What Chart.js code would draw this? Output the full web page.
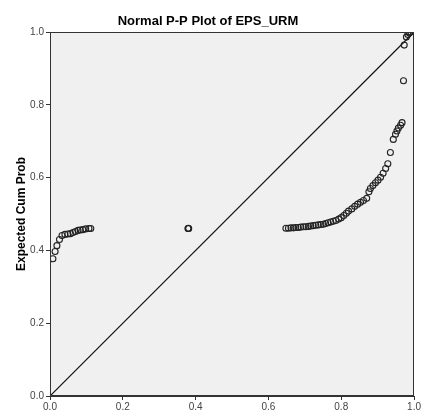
<!DOCTYPE html>
<html>
<head>
<meta charset="utf-8">
<script src="https://cdn.jsdelivr.net/npm/chart.js@4.4.1/dist/chart.umd.min.js"></script>
<style>
  html, body { margin: 0; padding: 0; background: #fff; }
  #wrap { width: 422px; height: 414px; }
</style>
</head>
<body>
<div id="wrap"><canvas id="ppPlot" width="422" height="414"></canvas></div>
<script>
var observedCum = [
  0.008, 0.014, 0.019, 0.026, 0.033, 0.041, 0.049, 0.056, 0.063, 0.070, 0.077, 0.083, 0.090, 0.098, 0.107, 0.112,
  0.379, 0.380, 0.381,
  0.648, 0.655, 0.662, 0.669, 0.675, 0.682, 0.689, 0.696, 0.703, 0.710, 0.716, 0.723, 0.730, 0.737, 0.744, 0.751,
  0.757, 0.764, 0.771, 0.778, 0.785, 0.793, 0.800, 0.807, 0.814, 0.820, 0.829, 0.837, 0.845, 0.853, 0.861, 0.870,
  0.876, 0.880, 0.887, 0.894, 0.901, 0.908, 0.915, 0.922, 0.928, 0.935, 0.943, 0.949, 0.953, 0.957, 0.963, 0.967,
  0.971, 0.973, 0.979, 0.983, 0.987, 0.991
];
var expectedCum = [
  0.377, 0.397, 0.413, 0.430, 0.441, 0.444, 0.445, 0.446, 0.449, 0.452, 0.455, 0.456, 0.457, 0.459, 0.460, 0.460,
  0.460, 0.461, 0.460,
  0.461, 0.461, 0.462, 0.462, 0.463, 0.463, 0.464, 0.465, 0.465, 0.466, 0.467, 0.468, 0.469, 0.470, 0.471, 0.472,
  0.474, 0.476, 0.478, 0.480, 0.482, 0.486, 0.490, 0.496, 0.502, 0.508, 0.514, 0.521, 0.527, 0.532, 0.537, 0.543,
  0.561, 0.570, 0.578, 0.586, 0.593, 0.601, 0.612, 0.625, 0.638, 0.669, 0.705, 0.719, 0.728, 0.736, 0.744, 0.751,
  0.866, 0.964, 0.986, 0.993, 0.997, 1.000
];
var refLineX = [0, 1];
var refLineY = [0, 1];
var tickValues = [0, 0.2, 0.4, 0.6, 0.8, 1.0];

var points = observedCum.map(function(x, i) { return {x: x, y: expectedCum[i]}; });
var refLine = refLineX.map(function(x, i) { return {x: x, y: refLineY[i]}; });

// grey plot background + box round the plot area
var frame = {
  id: 'frame',
  beforeDatasetsDraw: function(chart) {
    var a = chart.chartArea, c = chart.ctx;
    c.save();
    c.fillStyle = '#f0f0f0';
    c.fillRect(a.left, a.top, a.right - a.left, a.bottom - a.top);
    c.restore();
  },
  afterDraw: function(chart) {
    var a = chart.chartArea, c = chart.ctx;
    c.save();
    c.strokeStyle = '#333';
    c.lineWidth = 1;
    c.strokeRect(Math.round(a.left) + 0.5, Math.round(a.top) + 0.5,
                 Math.round(a.right - a.left) - 1, Math.round(a.bottom - a.top) - 1);
    c.restore();
  }
};

var tickFont = {family: 'Liberation Sans, Arial, sans-serif', size: 10};

new Chart(document.getElementById('ppPlot'), {
  type: 'scatter',
  data: {
    datasets: [{
      data: refLine,
      type: 'line',
      borderColor: '#111',
      borderWidth: 1.2,
      pointRadius: 0,
      fill: false,
      order: 2
    }, {
      data: points,
      pointRadius: 3,
      pointBorderWidth: 1.1,
      pointBorderColor: '#222',
      pointBackgroundColor: 'rgba(0,0,0,0)',
      order: 1
    }]
  },
  options: {
    responsive: false,
    animation: false,
    layout: { padding: { left: 0, right: 6, top: 0, bottom: 0 } },
    plugins: {
      legend: { display: false },
      tooltip: { enabled: false },
      title: {
        display: true,
        text: 'Normal P-P Plot of EPS_URM',
        color: '#000',
        font: {family: 'Liberation Sans, Arial, sans-serif', size: 13, weight: 'bold'},
        padding: {top: 14, bottom: 2.4}
      }
    },
    scales: {
      x: {
        type: 'linear',
        min: 0, max: 1,
        afterBuildTicks: function(s) { s.ticks = tickValues.map(function(v) { return {value: v}; }); },
        afterFit: function(s) { s.height = 18; },
        ticks: {
          color: '#444', font: tickFont, padding: 1, maxRotation: 0,
          callback: function(v) { return v.toFixed(1); }
        },
        grid: { drawOnChartArea: false, tickLength: 4, color: '#333' },
        border: { color: '#333' }
      },
      y: {
        type: 'linear',
        min: 0, max: 1,
        afterBuildTicks: function(s) { s.ticks = tickValues.map(function(v) { return {value: v}; }); },
        afterFit: function(s) { s.width = 50; },
        ticks: {
          color: '#444', font: tickFont, padding: 2,
          callback: function(v) { return v.toFixed(1); }
        },
        grid: { drawOnChartArea: false, tickLength: 4, color: '#333' },
        border: { color: '#333' },
        title: {
          display: true,
          text: 'Expected Cum Prob',
          color: '#000',
          font: {family: 'Liberation Sans, Arial, sans-serif', size: 12, weight: 'bold'},
          padding: {top: 14, bottom: 0}
        }
      }
    }
  },
  plugins: [frame]
});
</script>
</body>
</html>
